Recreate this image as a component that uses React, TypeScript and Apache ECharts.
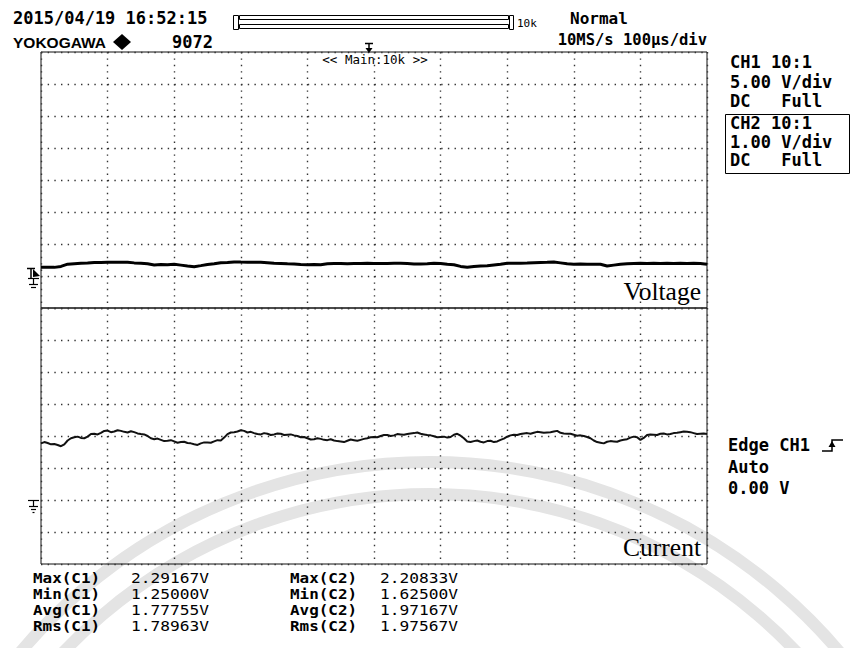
import React, { useEffect, useRef } from "react";
import * as echarts from "echarts";

// ---- data ----
const CH1_STEP_US = 10; // CH1 points read every 10 us
const CH2_STEP_US = 5; // CH2 points read every 5 us
const TIME_MAX_US = 1000; // 10 div x 100 us/div

// CH1 voltage (V), every 10 us
const voltageV = [
  1.36, 1.38, 1.35, 1.5, 1.85, 1.92, 1.98, 2.02, 2.12, 2.1, 2.15, 2.14, 2.13, 2.14, 2.05, 1.98, 1.9, 1.72,
  1.78, 1.74, 1.83, 1.7, 1.56, 1.46, 1.62, 1.8, 1.9, 2.06, 2.1, 2.19, 2.17, 2.16, 2.14, 2.13, 2.06, 1.99,
  1.97, 1.9, 1.86, 1.8, 1.77, 1.79, 1.76, 1.9, 1.95, 1.97, 1.93, 1.96, 1.95, 1.98, 1.94, 1.96, 1.95, 1.99,
  1.98, 1.96, 1.89, 1.87, 1.92, 1.98, 1.96, 1.82, 1.76, 1.5, 1.36, 1.48, 1.56, 1.6, 1.72, 1.83, 1.98, 1.99,
  2.01, 2.03, 2.08, 2.12, 2.15, 2.19, 2.05, 1.9, 1.83, 1.86, 1.82, 1.85, 1.83, 1.56, 1.7, 1.83, 1.9, 1.95,
  1.98, 1.96, 1.99, 1.97, 1.98, 1.96, 1.99, 1.97, 1.98, 1.95, 1.84,
];

// CH2 current-probe voltage (V), read every 5 us
const currentV = [
  1.77, 1.81, 1.78, 1.74, 1.75, 1.72, 1.68, 1.74, 1.86, 1.93, 1.96, 1.98, 1.94, 1.93, 1.98, 2.06, 2.07, 2.05,
  2.1, 2.16, 2.17, 2.12, 2.14, 2.18, 2.16, 2.13, 2.11, 2.15, 2.12, 2.08, 2.06, 2.05, 2.0, 1.93, 1.9, 1.92,
  1.88, 1.84, 1.85, 1.87, 1.83, 1.79, 1.81, 1.82, 1.78, 1.77, 1.74, 1.72, 1.77, 1.8, 1.8, 1.79, 1.83, 1.87,
  1.86, 1.95, 2.06, 2.11, 2.12, 2.14, 2.18, 2.16, 2.11, 2.13, 2.09, 2.06, 2.05, 2.09, 2.07, 2.03, 2.05, 2.08,
  2.07, 2.03, 2.04, 2.05, 2.02, 2.0, 1.96, 1.97, 1.93, 1.89, 1.9, 1.93, 1.91, 1.88, 1.87, 1.9, 1.86, 1.84,
  1.83, 1.81, 1.85, 1.89, 1.87, 1.85, 1.88, 1.91, 1.93, 1.96, 1.97, 1.96, 2.0, 2.03, 2.03, 2.0, 2.02, 2.06,
  2.05, 2.04, 2.06, 2.08, 2.09, 2.11, 2.07, 2.05, 2.03, 2.02, 1.99, 1.96, 1.97, 1.98, 1.95, 1.97, 2.04, 2.07,
  2.01, 1.93, 1.83, 1.81, 1.84, 1.86, 1.82, 1.8, 1.84, 1.85, 1.81, 1.83, 1.88, 1.92, 1.98, 2.02, 2.04, 2.03,
  2.06, 2.08, 2.09, 2.07, 2.1, 2.13, 2.12, 2.1, 2.11, 2.12, 2.14, 2.16, 2.1, 2.08, 2.07, 2.07, 2.04, 2.01,
  2.02, 2.0, 1.97, 1.93, 1.86, 1.81, 1.79, 1.77, 1.82, 1.84, 1.83, 1.82, 1.86, 1.88, 1.9, 1.95, 1.98, 1.96,
  1.88, 1.94, 2.03, 2.05, 2.04, 2.03, 2.07, 2.08, 2.05, 2.06, 2.09, 2.1, 2.12, 2.14, 2.13, 2.12, 2.09, 2.06,
  2.07, 2.08, 2.06,
];

const ch1Lines = ["CH1 10:1", "5.00 V/div", "DC   Full"];
const ch2Lines = ["CH2 10:1", "1.00 V/div", "DC   Full"];
const trigLines = ["Edge CH1", "Auto", "0.00 V"];
const statLabels1 = ["Max(C1)", "Min(C1)", "Avg(C1)", "Rms(C1)"];
const statValues1 = ["2.29167V", "1.25000V", "1.77755V", "1.78963V"];
const statLabels2 = ["Max(C2)", "Min(C2)", "Avg(C2)", "Rms(C2)"];
const statValues2 = ["2.20833V", "1.62500V", "1.97167V", "1.97567V"];

const headerDate = "2015/04/19 16:52:15";
const headerBrand = "YOKOGAWA";
const headerCount = "9072";
const headerMode = "Normal";
const headerRate = "10MS/s 100µs/div";
const recordLen = "10k";
const zoomLabel = "<< Main:10k >>";

const MONO = '"DejaVu Sans Mono", monospace';
const SERIF = '"Liberation Serif", "DejaVu Serif", serif';

function txt(text: string, x: number, y: number, size: number, opts: any = {}) {
  return {
    type: "text",
    x,
    y,
    z: 10,
    scaleX: opts.sx || 1,
    style: {
      text,
      font: `${opts.weight || "bold"} ${size}px ${opts.family || MONO}`,
      fill: opts.fill || "#000",
      textAlign: opts.align || "left",
      textVerticalAlign: opts.valign || "middle",
    },
  };
}

function ln(x1: number, y1: number, x2: number, y2: number, w = 1, c = "#000", z = 10) {
  return { type: "line", z, shape: { x1, y1, x2, y2 }, style: { stroke: c, lineWidth: w } };
}

export default function App() {
  const ref = useRef<HTMLDivElement>(null);
  useEffect(() => {
    if (!ref.current) return;
    const chart = echarts.init(ref.current, null, { renderer: "svg" });
    const vData = voltageV.map((v, i) => [i * CH1_STEP_US, v]);
    const cData = currentV.map((v, i) => [i * CH2_STEP_US, v]);

    const dotH = { color: "#333", width: 1.4, type: [1.4, 5.27] };
    const dotV = { color: "#333", width: 1.4, type: [1.4, 5.0] };

    const graphics: any[] = [];
    // faint watermark arcs
    [536, 504].forEach((r) =>
      graphics.push({
        type: "arc", z: -5, silent: true,
        shape: { cx: 430, cy: 998, r, startAngle: Math.PI * 1.05, endAngle: Math.PI * 1.95, clockwise: true },
        style: { stroke: "#e4e4e4", lineWidth: 12, fill: "none" },
      })
    );

    // header
    graphics.push(txt(headerDate, 13, 18, 17));
    graphics.push(txt(headerBrand, 13, 42, 15.5, { family: '"Liberation Sans", Arial, sans-serif' }));
    graphics.push({
      type: "polygon", z: 10,
      shape: { points: [[122, 34], [131, 42], [122, 50], [113, 42]] },
      style: { fill: "#000" },
    });
    graphics.push(txt(headerCount, 213, 42, 17, { align: "right" }));
    // record bar
    graphics.push({ type: "rect", z: 10, shape: { x: 233.5, y: 15.5, width: 5, height: 14 }, style: { fill: "none", stroke: "#000", lineWidth: 1 } });
    graphics.push({ type: "rect", z: 10, shape: { x: 239.5, y: 15.5, width: 269, height: 4 }, style: { fill: "none", stroke: "#000", lineWidth: 1 } });
    graphics.push({ type: "rect", z: 10, shape: { x: 239.5, y: 24.5, width: 269, height: 4 }, style: { fill: "none", stroke: "#000", lineWidth: 1 } });
    graphics.push({ type: "rect", z: 10, shape: { x: 509.5, y: 15.5, width: 4, height: 14 }, style: { fill: "none", stroke: "#000", lineWidth: 1 } });
    graphics.push(txt(recordLen, 517, 23, 11, { weight: "normal" }));
    graphics.push(txt(headerMode, 570, 18, 16));
    graphics.push(txt(headerRate, 707, 40, 15.5, { align: "right" }));
    // trigger position marker
    graphics.push(ln(365, 43.5, 373, 43.5, 1.5));
    graphics.push(ln(369, 43, 369, 49, 1.5));
    graphics.push({ type: "polygon", z: 10, shape: { points: [[365.5, 48], [372.5, 48], [369, 53]] }, style: { fill: "#000" } });
    graphics.push(txt(zoomLabel, 375, 59, 12.5, { weight: "normal", align: "center" }));

    // right panel
    ch1Lines.forEach((t, i) => graphics.push(txt(t, 730, 62 + i * 19.5, 17)));
    graphics.push({ type: "rect", z: 10, shape: { x: 725.5, y: 114.5, width: 124, height: 59 }, style: { fill: "none", stroke: "#000", lineWidth: 1 } });
    ch2Lines.forEach((t, i) => graphics.push(txt(t, 730, 123 + i * 18.5, 17)));
    trigLines.forEach((t, i) => graphics.push(txt(t, 728, 445 + i * 21.5, 17)));
    // rising edge symbol
    graphics.push({ type: "polyline", z: 10, shape: { points: [[822, 451], [832, 451], [832, 440], [843, 440]] }, style: { stroke: "#000", lineWidth: 1.5, fill: "none" } });
    graphics.push({ type: "polygon", z: 10, shape: { points: [[828.5, 447], [835.5, 447], [832, 441]] }, style: { fill: "#000" } });

    // left markers: CH1 trigger level + ground (top), CH2 ground (bottom)
    graphics.push(ln(27, 268.5, 35, 268.5, 1.5));
    graphics.push(ln(31, 268, 31, 278, 1.5));
    graphics.push({ type: "polygon", z: 10, shape: { points: [[33, 269], [40, 276], [33, 277]] }, style: { fill: "#000" } });
    graphics.push(ln(28, 278.5, 39, 278.5, 1.2));
    graphics.push(ln(33.5, 278, 33.5, 284, 1.2));
    graphics.push(ln(29, 284.5, 38, 284.5, 1.2));
    graphics.push(ln(31, 287.5, 36, 287.5, 1.2));
    graphics.push(ln(28, 500.5, 39, 500.5, 1.2));
    graphics.push(ln(33.5, 500, 33.5, 506, 1.2));
    graphics.push(ln(29, 506.5, 38, 506.5, 1.2));
    graphics.push(ln(31, 509.5, 36, 509.5, 1.2));
    graphics.push(ln(32.5, 512.5, 34.5, 512.5, 1.2));

    // panel labels
    graphics.push(txt("Voltage", 701, 304, 25.5, { weight: "normal", family: SERIF, align: "right", valign: "bottom" }));
    graphics.push(txt("Current", 701, 560, 25.5, { weight: "normal", family: SERIF, align: "right", valign: "bottom" }));

    // statistics (monospace text slightly widened)
    const rowY = [578, 594, 610, 626];
    statLabels1.forEach((t, i) => graphics.push(txt(t, 33, rowY[i], 13.5, { sx: 1.18 })));
    statValues1.forEach((t, i) => graphics.push(txt(t, 131, rowY[i], 13.5, { weight: "normal", sx: 1.2 })));
    statLabels2.forEach((t, i) => graphics.push(txt(t, 290, rowY[i], 13.5, { sx: 1.18 })));
    statValues2.forEach((t, i) => graphics.push(txt(t, 380, rowY[i], 13.5, { weight: "normal", sx: 1.2 })));

    const axisCommon = {
      axisLabel: { show: false },
      axisTick: { show: false },
      axisLine: { show: false },
    };

    chart.setOption({
      animation: false,
      backgroundColor: "#fff",
      grid: [
        { left: 41, top: 52, width: 666, height: 256, show: true, borderColor: "#111", borderWidth: 1, backgroundColor: "transparent" },
        { left: 41, top: 308, width: 666, height: 256, show: true, borderColor: "#111", borderWidth: 1, backgroundColor: "transparent" },
      ],
      xAxis: [
        { type: "value", gridIndex: 0, min: 0, max: TIME_MAX_US, interval: 100, ...axisCommon, splitLine: { show: true, lineStyle: dotV } },
        { type: "value", gridIndex: 1, min: 0, max: TIME_MAX_US, interval: 100, ...axisCommon, splitLine: { show: true, lineStyle: dotV } },
      ],
      yAxis: [
        { type: "value", gridIndex: 0, min: -5, max: 35, interval: 5, ...axisCommon, splitLine: { show: true, lineStyle: dotH } },
        { type: "value", gridIndex: 1, min: -2, max: 6, interval: 1, ...axisCommon, splitLine: { show: true, lineStyle: dotH } },
      ],
      series: [
        {
          name: "Voltage", type: "line", xAxisIndex: 0, yAxisIndex: 0, data: vData, showSymbol: false, symbol: "none",
          lineStyle: { color: "#000", width: 3 }, z: 5,
        },
        {
          name: "Current", type: "line", xAxisIndex: 1, yAxisIndex: 1, data: cData, showSymbol: false, symbol: "none",
          lineStyle: { color: "#111", width: 2 }, z: 5,
        },
      ],
      graphic: graphics,
    });
    return () => chart.dispose();
  }, []);
  return <div ref={ref} style={{ position: "fixed", left: 0, top: 0, width: 854, height: 648 }} />;
}
